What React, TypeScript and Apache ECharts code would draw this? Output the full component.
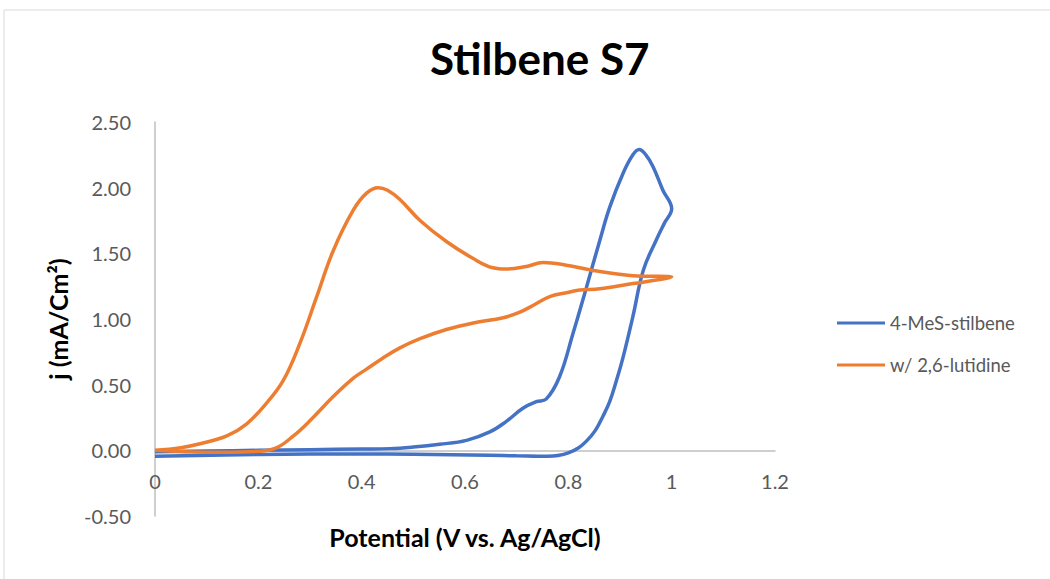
import React, { useEffect, useRef } from "react";
import * as echarts from "echarts";

const chartTitle = "Stilbene S7";
const xTitle = "Potential (V vs. Ag/AgCl)";
const yTitle = "j (mA/Cm²)";
const seriesNames = ["4-MeS-stilbene", "w/ 2,6-lutidine"];

const blueData: number[][] = [
  [0, -0.01], [0.1, -0.005], [0.2, 0.0], [0.3, 0.005], [0.4, 0.01], [0.455, 0.013],
  [0.5, 0.025], [0.551, 0.046], [0.603, 0.076], [0.648, 0.14], [0.68, 0.22],
  [0.712, 0.32], [0.738, 0.37], [0.757, 0.39], [0.783, 0.56], [0.809, 0.89],
  [0.835, 1.24], [0.861, 1.6], [0.88, 1.85], [0.906, 2.11], [0.925, 2.25],
  [0.937, 2.29], [0.95, 2.25], [0.964, 2.16], [0.983, 1.98], [1.0, 1.84],
  [0.986, 1.73], [0.97, 1.6], [0.945, 1.37], [0.925, 1.02], [0.906, 0.71],
  [0.893, 0.53], [0.88, 0.37], [0.867, 0.26], [0.852, 0.15], [0.835, 0.07],
  [0.82, 0.02], [0.8, -0.02], [0.78, -0.04], [0.76, -0.046], [0.7, -0.042],
  [0.648, -0.038], [0.5, -0.03], [0.4, -0.028], [0.2, -0.032], [0, -0.045],
];

const orangeData: number[][] = [
  [0, 0.0], [0.05, 0.02], [0.087, 0.05], [0.139, 0.11], [0.177, 0.2], [0.216, 0.36],
  [0.248, 0.53], [0.28, 0.81], [0.313, 1.17], [0.345, 1.52], [0.384, 1.83],
  [0.41, 1.96], [0.432, 2.0], [0.45, 1.98], [0.474, 1.91], [0.513, 1.75],
  [0.564, 1.59], [0.616, 1.46], [0.654, 1.39], [0.68, 1.38], [0.719, 1.4],
  [0.751, 1.43], [0.796, 1.41], [0.848, 1.37], [0.925, 1.33], [1.0, 1.32],
  [0.977, 1.3], [0.925, 1.27], [0.861, 1.23], [0.822, 1.22], [0.796, 1.2],
  [0.764, 1.17], [0.735, 1.11], [0.705, 1.05], [0.674, 1.01], [0.616, 0.97],
  [0.564, 0.92], [0.513, 0.85], [0.474, 0.78], [0.44, 0.7], [0.41, 0.62],
  [0.384, 0.55], [0.345, 0.41], [0.306, 0.25], [0.268, 0.11], [0.229, 0.01],
  [0.184, -0.01], [0.1, -0.015], [0, 0.0],
];

const xRange = { min: 0, max: 1.2, interval: 0.2 };
const yRange = { min: -0.5, max: 2.5, interval: 0.5 };
const colors = ["#4472C4", "#ED7D31"];

export default function App() {
  const ref = useRef<HTMLDivElement>(null);
  useEffect(() => {
    document.body.style.margin = "0";
    if (!ref.current) return;
    const chart = echarts.init(ref.current, null, { renderer: "svg" });
    const font = "Lato, 'Open Sans', sans-serif";
    chart.setOption({
      animation: false,
      textStyle: { fontFamily: font },
      title: {
        text: chartTitle,
        left: 425,
        top: 31,
        textStyle: { fontSize: 44, fontWeight: "bold", color: "#000", fontFamily: font },
      },
      graphic: [
        {
          type: "rect",
          shape: { x: 4, y: 10, width: 1060, height: 600 },
          style: { fill: "none", stroke: "#D9D9D9", lineWidth: 1 },
          silent: true,
        },
      ],
      legend: {
        orient: "vertical",
        left: 832,
        top: 308,
        itemWidth: 48,
        itemHeight: 3,
        itemGap: 22,
        icon: "rect",
        data: seriesNames,
        textStyle: { fontSize: 18.5, color: "#595959", fontFamily: font, lineHeight: 20 },
      },
      grid: { left: 155, right: 275, top: 122, bottom: 63, containLabel: false, outerBoundsMode: "none" },
      xAxis: {
        type: "value",
        min: xRange.min,
        max: xRange.max,
        interval: xRange.interval,
        name: xTitle,
        nameLocation: "middle",
        nameGap: 8,
        nameTextStyle: { fontSize: 25, fontWeight: "bold", color: "#000", fontFamily: font },
        axisLine: { show: true, onZero: true, lineStyle: { color: "#BFBFBF", width: 1.5 } },
        axisTick: { show: false },
        splitLine: { show: false },
        axisLabel: {
          fontSize: 20,
          color: "#595959",
          margin: -45,
          formatter: (v: number) => String(Math.round(v * 10) / 10),
        },
      },
      yAxis: {
        type: "value",
        min: yRange.min,
        max: yRange.max,
        interval: yRange.interval,
        name: yTitle,
        nameLocation: "middle",
        nameGap: 85,
        nameRotate: 90,
        nameTextStyle: { fontSize: 25, fontWeight: "bold", color: "#000", fontFamily: font },
        axisLine: { show: true, onZero: false, lineStyle: { color: "#BFBFBF", width: 1.5 } },
        axisTick: { show: false },
        splitLine: { show: false },
        axisLabel: {
          fontSize: 20,
          color: "#595959",
          margin: 24,
          formatter: (v: number) => v.toFixed(2),
        },
      },
      series: [
        {
          name: seriesNames[0],
          type: "line",
          data: blueData,
          smooth: 0.4,
          showSymbol: false,
          lineStyle: { color: colors[0], width: 3.5 },
          itemStyle: { color: colors[0] },
        },
        {
          name: seriesNames[1],
          type: "line",
          data: orangeData,
          smooth: 0.4,
          showSymbol: false,
          lineStyle: { color: colors[1], width: 3.5 },
          itemStyle: { color: colors[1] },
        },
      ],
    });
    return () => chart.dispose();
  }, []);
  return <div ref={ref} style={{ width: 1050, height: 579 }} />;
}
